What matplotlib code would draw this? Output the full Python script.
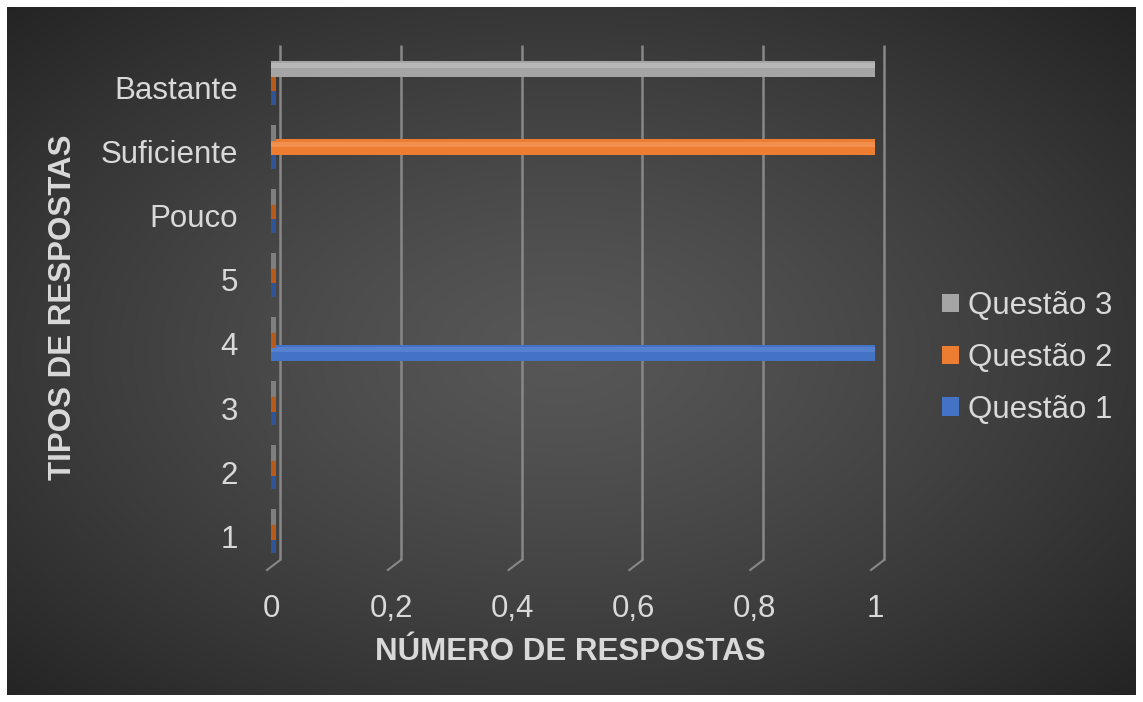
import numpy as np
import matplotlib
matplotlib.use("Agg")
import matplotlib.pyplot as plt
from matplotlib.patches import Patch, Rectangle
from matplotlib.transforms import offset_copy

# ---- data ----
categories = ["1", "2", "3", "4", "5", "Pouco", "Suficiente", "Bastante"]
series_names = ["Questão 1", "Questão 2", "Questão 3"]
q1 = [0, 0, 0, 1, 0, 0, 0, 0]
q2 = [0, 0, 0, 0, 0, 0, 1, 0]
q3 = [0, 0, 0, 0, 0, 0, 0, 1]
x_ticks = [0, 0.2, 0.4, 0.6, 0.8, 1.0]
x_tick_labels = ["0", "0,2", "0,4", "0,6", "0,8", "1"]
x_title = "NÚMERO DE RESPOSTAS"
y_title = "TIPOS DE RESPOSTAS"

colors = ["#4472C4", "#ED7D31", "#A5A5A5"]
tops = ["#5A86D2", "#F39456", "#BDBDBD"]
caps = ["#2F5597", "#B85A1C", "#7F7F7F"]

plt.rcParams['font.family'] = ['Liberation Sans', 'DejaVu Sans']
W, H = 1143, 702
fig = plt.figure(figsize=(W / 100, H / 100), dpi=100)
fig.patch.set_facecolor("white")

# ---- background radial gradient ----
bg = fig.add_axes([7 / W, 7 / H, (1136 - 7) / W, (695 - 7) / H])
bg.set_axis_off()
yy, xx = np.mgrid[0:200, 0:320]
cx, cy = 0.49 * 320, 0.50 * 200
r = np.sqrt(((xx - cx) / 320) ** 2 + ((yy - cy) / 200) ** 2) / 0.72
r = np.clip(r, 0, 1)
val = 0.34 - (0.34 - 0.135) * r ** 1.3
img = np.dstack([val, val, val])
bg.imshow(img, aspect="auto", extent=[0, 1, 0, 1], interpolation="bilinear")
bg.set_xlim(0, 1); bg.set_ylim(0, 1)

# ---- main axes ----
left, right = 271 / W, 875 / W
top, bottom = 1 - 45 / H, 1 - 570 / H
ax = fig.add_axes([left, bottom, right - left, top - bottom])
ax.set_facecolor("none")
for s in ax.spines.values():
    s.set_visible(False)
ax.set_xlim(0, 1)
ylo, yhi = -0.53, 7.67
ax.set_ylim(ylo, yhi)

# gridlines (back wall offset + floor diagonal)
grid_col = "#888888"
tr_back = offset_copy(ax.transData, fig=fig, x=9, y=0, units="dots")
tr_front = offset_copy(ax.transData, fig=fig, x=-4, y=0, units="dots")
y_floor_back = -0.375
inv = ax.transData.inverted()
for t in x_ticks:
    ax.plot([t, t], [yhi, y_floor_back], color=grid_col, lw=1.8, transform=tr_back,
            solid_capstyle="butt", zorder=1, clip_on=False)
    p1 = tr_back.transform((t, y_floor_back))
    p2 = tr_front.transform((t, ylo))
    d1, d2 = inv.transform(p1), inv.transform(p2)
    ax.plot([d1[0], d2[0]], [d1[1], d2[1]], color=grid_col, lw=1.5, zorder=1,
            clip_on=False)

# bars
pos = np.arange(len(categories))
h = 0.25
offsets = [-0.21, 0.0, 0.23]
shift = 0.07
cap_w = 0.008
for i, vals in enumerate([q1, q2, q3]):
    yc = pos + shift + offsets[i]
    ax.barh(yc, vals, height=h, color=colors[i], edgecolor="none", zorder=3 + i * 0.1,
            label=series_names[i])
    ax.barh(yc + h * 0.2, vals, height=h * 0.3, color=tops[i], edgecolor="none",
            zorder=3.05 + i * 0.1, alpha=0.8)
    for y, v in zip(yc, vals):
        ax.add_patch(Rectangle((v, y - h / 2), cap_w, h, facecolor=caps[i],
                               edgecolor="none", zorder=3.08 + i * 0.1))

txt_col = "#D9D9D9"
fs = 22.5
ax.set_yticks(pos)
ax.set_yticklabels(categories, fontsize=fs, color=txt_col)
ax.set_xticks(x_ticks)
ax.set_xticklabels(x_tick_labels, fontsize=fs, color=txt_col)
ax.tick_params(axis="y", length=0, pad=24)
ax.tick_params(axis="x", length=0, pad=17)

fig.text(570 / W, 1 - 652 / H, x_title, fontsize=fs, fontweight="bold", color=txt_col,
         ha="center", va="center")
fig.text(63 / W, 1 - 307 / H, y_title, fontsize=fs, fontweight="bold", color=txt_col,
         ha="center", va="center", rotation=90)

handles = [Patch(facecolor=colors[i], edgecolor="none") for i in [2, 1, 0]]
labels = [series_names[i] for i in [2, 1, 0]]
leg = fig.legend(handles, labels, loc="center left", bbox_to_anchor=(942 / W, 1 - 358 / H),
                 frameon=False, fontsize=fs, handlelength=0.55, handleheight=0.55,
                 handletextpad=0.28, labelspacing=0.70, borderpad=0, borderaxespad=0)
for t in leg.get_texts():
    t.set_color(txt_col)

fig.savefig("out.png", dpi=100, facecolor="white")
